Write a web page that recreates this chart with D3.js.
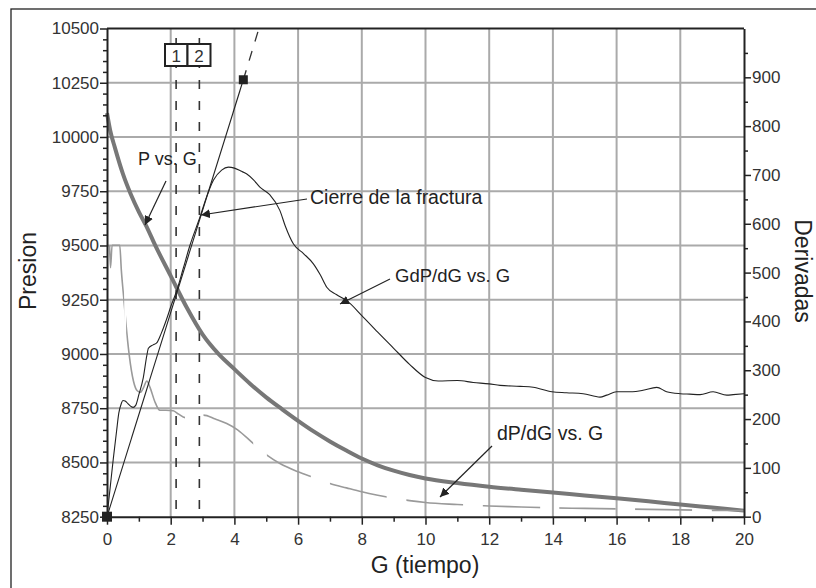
<!DOCTYPE html>
<html><head><meta charset="utf-8">
<script src="https://cdn.jsdelivr.net/npm/d3@7"></script>
<style>
html,body{margin:0;padding:0;background:#fff;}
svg{display:block;font-family:"Liberation Sans",Arial,sans-serif;}
</style></head>
<body><svg id="c" width="816" height="588"></svg>
<script>
// ---- data ----
const xTicks = [0,2,4,6,8,10,12,14,16,18,20];
const leftTicks = [8250,8500,8750,9000,9250,9500,9750,10000,10250,10500];
const rightTicks = [0,100,200,300,400,500,600,700,800,900];

// P vs. G (left axis)
const gP   = [0,0.1,0.25,0.5,0.75,1.0,1.25,1.5,2.0,2.5,3.0,3.5,4.0,4.5,5.0,5.5,6.0,6.5,7.0,7.5,8.0,8.5,9.0,9.5,10,11,12,13,14,15,16,17,18,19,20];
const pres = [10110,10030,9950,9830,9735,9655,9585,9505,9360,9215,9090,9000,8930,8862,8800,8745,8692,8642,8597,8556,8518,8487,8462,8442,8426,8405,8388,8374,8361,8348,8335,8321,8306,8292,8278];

// GdP/dG vs. G (right axis)
const gGd   = [0,0.1,0.2,0.3,0.37,0.45,0.5,0.57,0.65,0.75,0.82,0.9,1.0,1.14,1.25,1.3,1.45,1.56,1.7,1.9,2.0,2.19,2.4,2.6,2.92,3.1,3.34,3.6,3.81,4.0,4.2,4.39,4.6,4.8,5.1,5.43,5.6,5.85,6.17,6.48,6.7,6.9,7.2,7.52,8.0,8.5,9.0,9.5,10.0,10.4,11.0,11.5,12.0,12.34,12.97,13.38,13.97,14.43,14.95,15.48,15.69,16.0,16.5,16.83,17.26,17.57,18.0,18.3,18.62,19.03,19.46,19.66,20];
const gdpdg = [0,60,120,175,212,232,238,237,232,226,224,228,250,285,330,345,352,356,375,410,430,463,510,555,614,650,689,710,716,714,708,702,690,675,660,627,595,559,539,518,495,470,455,443,412,378,345,312,285,278,279,275,272,269,267,265,256,254,252,245,249,256,256,259,265,256,252,251,250,256,249,250,252];

// dP/dG vs. G (right axis)
const gDp  = [0.08,0.11,0.16,0.4,0.45,0.54,0.59,0.7,0.83,0.95,1.05,1.15,1.25,1.35,1.5,1.66,1.85,2.08,2.25,2.45,2.7,3.03,3.4,3.76,4.1,4.59,5.02,5.43,6.0,6.5,7.0,7.52,8.0,8.5,9.0,9.5,10,11,12,13,14,15,16,17,18,19,20];
const dpdg = [556,510,556,556,505,438,399,330,278,258,255,265,278,265,236,218,218,217,210,203,206,208,200,191,178,150,126,109,92,80,68,59,51,44,38,33,29,25,22,20,18,17,16,15,14,13,12.5];

// straight line through origin and its dashed extension (right axis)
const tangentG = [0,4.28];
const tangentD = [0,895];
const tangentExtG = [4.28,4.77];
const tangentExtD = [895,1000];

// closure markers
const markG = [2.17,2.9];
const markLabels = ["1","2"];

// ---- chart ----
const svg = d3.select("#c");
const L=107,R=744,T=28.5,B=516.7;
const x  = d3.scaleLinear([0,20],[L,R]);
const yP = d3.scaleLinear([8250,10500],[B,T]);
const yD = d3.scaleLinear([0,1000],[B,T]);

// dash pattern of the dP/dG line (along G)
const dashRanges = [[0,0.54],[0.6,2.45],[3.03,4.59],[5.02,6.4],[7.0,8.78],[9.4,11.18],[11.8,13.6],[14.2,15.97],[16.58,18.37],[18.99,20.5]];

const defs = svg.append("defs");
const cp = defs.append("clipPath").attr("id","dashclip");
dashRanges.forEach(r=>cp.append("rect").attr("x",x(r[0])).attr("y",0).attr("width",x(r[1])-x(r[0])).attr("height",588));

// outer frame
svg.append("rect").attr("x",11).attr("y",9).attr("width",830).attr("height",620)
  .attr("fill","none").attr("stroke","#222").attr("stroke-width",1.3);

// grid
const grid = svg.append("g").attr("stroke","#aaa").attr("stroke-width",2);
xTicks.filter(v=>v>0&&v<20).forEach(v=>grid.append("line").attr("x1",x(v)).attr("x2",x(v)).attr("y1",T).attr("y2",B));
leftTicks.filter(v=>v>8250&&v<10500).forEach(v=>grid.append("line").attr("x1",L).attr("x2",R).attr("y1",yP(v)).attr("y2",yP(v)));

// vertical dashed closure lines
markG.forEach(g=>svg.append("line").attr("x1",x(g)).attr("x2",x(g)).attr("y1",38).attr("y2",B)
  .attr("stroke","#333").attr("stroke-width",1.6).attr("stroke-dasharray","9,12"));

// curves
const lineP = d3.line().x((d,i)=>x(gP[i])).y(d=>yP(d)).curve(d3.curveMonotoneX);
svg.append("path").attr("d",lineP(pres)).attr("fill","none").attr("stroke","#777").attr("stroke-width",4);

const lineDp = d3.line().x((d,i)=>x(gDp[i])).y(d=>yD(d)).curve(d3.curveMonotoneX);
svg.append("path").attr("d",lineDp(dpdg)).attr("fill","none").attr("stroke","#9a9a9a").attr("stroke-width",1.6)
  .attr("clip-path","url(#dashclip)");

const lineGd = d3.line().x((d,i)=>x(gGd[i])).y(d=>yD(d)).curve(d3.curveMonotoneX);
svg.append("path").attr("d",lineGd(gdpdg)).attr("fill","none").attr("stroke","#222").attr("stroke-width",1.1);

const lineT = d3.line().x(d=>x(d[0])).y(d=>yD(d[1]));
svg.append("path").attr("d",lineT(tangentG.map((g,i)=>[g,tangentD[i]]))).attr("fill","none").attr("stroke","#222").attr("stroke-width",1.1);
svg.append("path").attr("d",lineT(tangentExtG.map((g,i)=>[g,tangentExtD[i]]))).attr("fill","none").attr("stroke","#333").attr("stroke-width",1.3).attr("stroke-dasharray","10,10");

// squares
svg.append("rect").attr("x",x(0)-5).attr("y",yP(8250)-5).attr("width",10).attr("height",10).attr("fill","#222");
svg.append("rect").attr("x",x(tangentG[1])-4.5).attr("y",yD(tangentD[1])-4.5).attr("width",9).attr("height",9).attr("fill","#222");

// axes
const axG = svg.append("g");
const styleAxis = g=>{ g.select(".domain").attr("stroke","#222").attr("stroke-width",2);
  g.selectAll(".tick line").attr("stroke","#222").attr("stroke-width",1.5);
  g.selectAll("text").attr("fill","#333").attr("font-size",17).attr("font-family","Liberation Sans, Arial, sans-serif"); };

const minorLeft = d3.range(8250,10501,50).filter(v=>!leftTicks.includes(v));
const minorX = d3.range(1,20,2);
const minorRight = d3.range(50,1000,100);
const styleMinor = g=>{g.select(".domain").remove(); g.selectAll("line").attr("stroke","#222").attr("stroke-width",1.5);};
axG.append("g").attr("transform",`translate(${L},0)`).call(d3.axisLeft(yP).tickValues(minorLeft).tickSize(4).tickFormat("")).call(styleMinor);
axG.append("g").attr("transform",`translate(0,${B})`).call(d3.axisBottom(x).tickValues(minorX).tickSize(5).tickFormat("")).call(styleMinor);
axG.append("g").attr("transform",`translate(${R},0)`).call(d3.axisRight(yD).tickValues(minorRight).tickSize(4).tickFormat("")).call(styleMinor);

axG.append("g").attr("transform",`translate(${L},0)`).call(d3.axisLeft(yP).tickValues(leftTicks).tickSize(7).tickPadding(1).tickSizeOuter(0).tickFormat(d3.format("d"))).call(styleAxis);
axG.append("g").attr("transform",`translate(0,${B})`).call(d3.axisBottom(x).tickValues(xTicks).tickSize(8).tickPadding(8).tickSizeOuter(0).tickFormat(d3.format("d"))).call(styleAxis);
axG.append("g").attr("transform",`translate(${R},0)`).call(d3.axisRight(yD).tickValues(rightTicks).tickSize(7).tickPadding(1).tickSizeOuter(0).tickFormat(d3.format("d"))).call(styleAxis);
svg.append("line").attr("x1",L).attr("x2",R).attr("y1",T).attr("y2",T).attr("stroke","#222").attr("stroke-width",2);

// marker boxes
markG.forEach((g,i)=>{
  const bx = i===0 ? 165 : 187.5;
  const bw = i===0 ? 22.5 : 23;
  svg.append("rect").attr("x",bx).attr("y",44).attr("width",bw).attr("height",22)
    .attr("fill","#fff").attr("stroke","#222").attr("stroke-width",2);
  svg.append("text").attr("x",bx+bw/2).attr("y",61.5).attr("text-anchor","middle")
    .attr("font-size",17).attr("fill","#333").text(markLabels[i]);
});

// arrows
defs.append("marker").attr("id","ah").attr("viewBox","0 0 10 10").attr("refX",10).attr("refY",5)
  .attr("markerWidth",9).attr("markerHeight",9).attr("markerUnits","userSpaceOnUse").attr("orient","auto")
  .append("path").attr("d","M0,0L10,5L0,10z").attr("fill","#222");
const arrow = (x1,y1,x2,y2)=>svg.append("line").attr("x1",x1).attr("y1",y1).attr("x2",x2).attr("y2",y2)
  .attr("stroke","#222").attr("stroke-width",1.2).attr("marker-end","url(#ah)");
arrow(166,181,145,225);
arrow(307,199,201,215);
arrow(390,279,340,304);
arrow(492,446,440,497);

// annotation texts
const ann = (t,xx,yy,fs)=>svg.append("text").attr("x",xx).attr("y",yy).attr("font-size",fs).attr("fill","#222").text(t);
ann("P vs. G",138,165,18);
ann("Cierre de la fractura",310,204,19.5);
ann("GdP/dG vs. G",395,282,18.5);
ann("dP/dG vs. G",497,440,19.5);

// axis titles
svg.append("text").attr("transform","translate(36,271) rotate(-90)").attr("text-anchor","middle")
  .attr("font-size",23).attr("fill","#222").text("Presion");
svg.append("text").attr("transform","translate(795,271) rotate(90)").attr("text-anchor","middle")
  .attr("font-size",23).attr("fill","#222").text("Derivadas");
svg.append("text").attr("x",425).attr("y",573).attr("text-anchor","middle")
  .attr("font-size",23).attr("fill","#222").text("G (tiempo)");
</script></body></html>
